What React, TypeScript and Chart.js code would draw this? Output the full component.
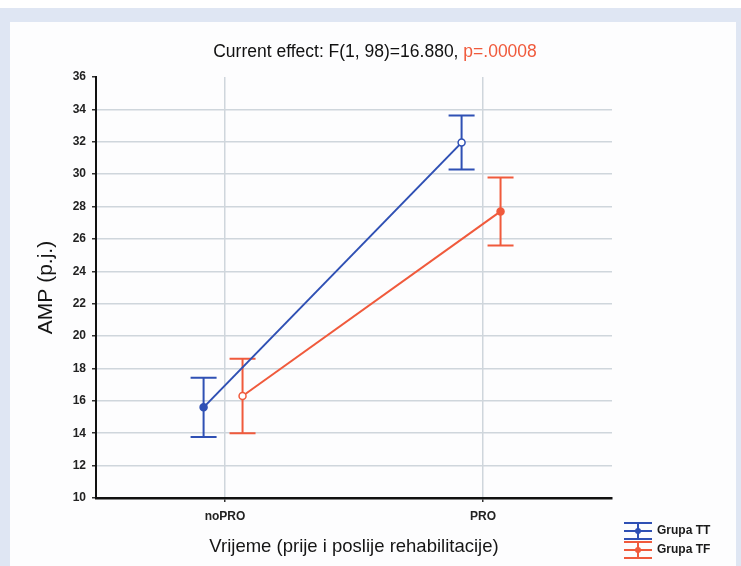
import React, { useEffect, useRef } from "react";
import { Chart, registerables } from "chart.js";

Chart.register(...registerables);

// ---- data ----
const categories = ["noPRO", "PRO"];
const seriesNames = ["Grupa TT", "Grupa TF"];
const ttMeans = [15.6, 31.95];
const ttErrors = [1.83, 1.67];
const tfMeans = [16.3, 27.7];
const tfErrors = [2.3, 2.1];
const yMin = 10;
const yMax = 36;
const yStep = 2;
const titleMain = "Current effect: F(1, 98)=16.880, ";
const titleP = "p=.00008";
const xTitle = "Vrijeme (prije i poslije rehabilitacije)";
const yTitle = "AMP (p.j.)";

// ---- styles ----
const FONT = "'Liberation Sans', Arial, Helvetica, sans-serif";
const BLUE = "#2f50b4";
const RED = "#f05a3c";
const GRID = "#cfd6dc";
const ttOffset = -0.083;
const tfOffset = 0.068;

const backgroundPlugin = {
  id: "bgPanel",
  beforeDraw(chart: any) {
    const { ctx, width, height } = chart;
    ctx.save();
    ctx.fillStyle = "#ffffff";
    ctx.fillRect(0, 0, width, height);
    ctx.fillStyle = "#dfe6f3";
    ctx.fillRect(0, 8, width, height - 8);
    ctx.fillStyle = "#fdfdfe";
    ctx.fillRect(10, 22, 726, height - 22);
    ctx.restore();
  },
};

const errorBarPlugin = {
  id: "errorBars",
  beforeDatasetsDraw(chart: any) {
    const { ctx } = chart;
    const x = chart.scales.x;
    const y = chart.scales.y;
    chart.data.datasets.forEach((ds: any) => {
      ctx.save();
      ctx.strokeStyle = ds.borderColor;
      ctx.lineWidth = 2;
      ds.data.forEach((p: any, i: number) => {
        const e = ds.errors[i];
        const px = x.getPixelForValue(p.x);
        const top = y.getPixelForValue(p.y + e);
        const bot = y.getPixelForValue(p.y - e);
        ctx.beginPath();
        ctx.moveTo(px, top);
        ctx.lineTo(px, bot);
        ctx.moveTo(px - 13, top);
        ctx.lineTo(px + 13, top);
        ctx.moveTo(px - 13, bot);
        ctx.lineTo(px + 13, bot);
        ctx.stroke();
      });
      ctx.restore();
    });
  },
};

const titlePlugin = {
  id: "twoColorTitle",
  afterDraw(chart: any) {
    const { ctx } = chart;
    ctx.save();
    ctx.font = `17.5px ${FONT}`;
    ctx.textBaseline = "middle";
    ctx.textAlign = "left";
    const w1 = ctx.measureText(titleMain).width;
    const w2 = ctx.measureText(titleP).width;
    const start = 375 - (w1 + w2) / 2;
    ctx.fillStyle = "#111111";
    ctx.fillText(titleMain, start, 52);
    ctx.fillStyle = RED;
    ctx.fillText(titleP, start + w1, 52);
    ctx.restore();
  },
};

const legendPlugin = {
  id: "customLegend",
  afterDraw(chart: any) {
    const { ctx } = chart;
    const items = chart.data.datasets.map((ds: any, i: number) => ({
      label: seriesNames[i],
      color: ds.borderColor,
    }));
    ctx.save();
    items.forEach((it: any, i: number) => {
      const cy = 531 + i * 19;
      const x0 = 624;
      const x1 = 652;
      const xm = (x0 + x1) / 2;
      ctx.strokeStyle = it.color;
      ctx.lineWidth = 2;
      ctx.beginPath();
      ctx.moveTo(x0, cy - 8);
      ctx.lineTo(x1, cy - 8);
      ctx.moveTo(x0, cy);
      ctx.lineTo(x1, cy);
      ctx.moveTo(x0, cy + 8);
      ctx.lineTo(x1, cy + 8);
      ctx.moveTo(xm, cy - 8);
      ctx.lineTo(xm, cy + 8);
      ctx.stroke();
      ctx.fillStyle = it.color;
      ctx.beginPath();
      ctx.arc(xm, cy, 3, 0, Math.PI * 2);
      ctx.fill();
      ctx.fillStyle = "#1a1a1a";
      ctx.font = `bold 12px ${FONT}`;
      ctx.textBaseline = "middle";
      ctx.textAlign = "left";
      ctx.fillText(it.label, 657, cy);
    });
    ctx.restore();
  },
};

export default function App() {
  const canvasRef = useRef<HTMLCanvasElement | null>(null);

  useEffect(() => {
    if (!canvasRef.current) return;
    const chart = new Chart(canvasRef.current, {
      type: "scatter",
      data: {
        datasets: [
          {
            label: seriesNames[0],
            data: categories.map((_, i) => ({ x: i + ttOffset, y: ttMeans[i] })),
            errors: ttErrors,
            showLine: true,
            borderColor: BLUE,
            borderWidth: 2,
            pointRadius: 3.5,
            pointBorderWidth: 1.5,
            pointBorderColor: BLUE,
            pointBackgroundColor: [BLUE, "#ffffff"],
          } as any,
          {
            label: seriesNames[1],
            data: categories.map((_, i) => ({ x: i + tfOffset, y: tfMeans[i] })),
            errors: tfErrors,
            showLine: true,
            borderColor: RED,
            borderWidth: 2,
            pointRadius: 3.5,
            pointBorderWidth: 1.5,
            pointBorderColor: RED,
            pointBackgroundColor: ["#ffffff", RED],
          } as any,
        ],
      },
      options: {
        animation: false,
        responsive: false,
        devicePixelRatio: 1,
        layout: { padding: { left: 0, right: 129, top: 77, bottom: 0 } },
        plugins: {
          legend: { display: false },
          tooltip: { enabled: false },
          title: { display: false },
        },
        scales: {
          x: {
            type: "linear",
            min: -0.5,
            max: 1.5,
            afterBuildTicks: (s: any) => {
              s.ticks = categories.map((_, i) => ({ value: i }));
            },
            afterFit: (s: any) => {
              s.height = 68;
            },
            ticks: {
              callback: (v: any) => categories[v] ?? "",
              font: { family: FONT, size: 12, weight: "bold" },
              color: "#222",
              padding: 7,
              maxRotation: 0,
            },
            grid: {
              color: GRID,
              lineWidth: 1.5,
              tickLength: 4,
              tickColor: "#333",
            },
            border: { color: "#111", width: 2.5 },
            title: {
              display: true,
              text: xTitle,
              font: { family: FONT, size: 18.5 },
              color: "#151515",
              padding: { top: 0, bottom: 8 },
            },
          },
          y: {
            min: yMin,
            max: yMax,
            afterFit: (s: any) => {
              s.width = 96;
            },
            ticks: {
              stepSize: yStep,
              font: { family: FONT, size: 12, weight: "bold" },
              color: "#222",
              padding: 6,
            },
            grid: {
              color: (c: any) => (c.tick && c.tick.value === yMax ? "rgba(0,0,0,0)" : GRID),
              lineWidth: 1.5,
              tickLength: 4,
              tickColor: "#333",
            },
            border: { color: "#111", width: 2 },
            title: {
              display: true,
              text: yTitle,
              font: { family: FONT, size: 21 },
              color: "#151515",
              padding: { top: 34, bottom: 0 },
            },
          },
        },
      } as any,
      plugins: [backgroundPlugin, errorBarPlugin, titlePlugin, legendPlugin],
    });
    return () => chart.destroy();
  }, []);

  return (
    <div style={{ position: "absolute", left: 0, top: 0, width: 741, height: 566 }}>
      <canvas ref={canvasRef} width={741} height={566} style={{ width: 741, height: 566, display: "block" }} />
    </div>
  );
}
